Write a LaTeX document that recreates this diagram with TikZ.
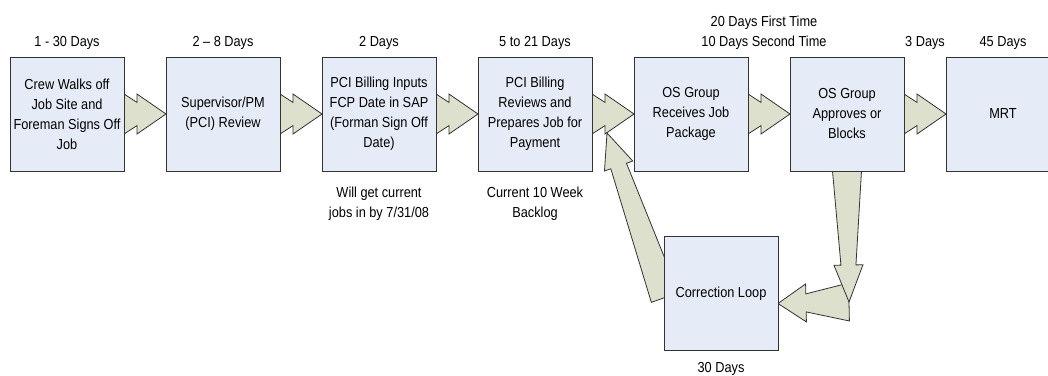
\documentclass[tikz,border=0pt]{standalone}
\usepackage{fontspec}
\setmainfont{Liberation Sans}[FakeStretch=0.88]
\usetikzlibrary{positioning, calc, backgrounds}

\definecolor{boxblue}{RGB}{230,236,247}
\definecolor{arrowgreen}{RGB}{221,224,204}
\definecolor{linegray}{RGB}{51,51,51}

\begin{document}
\begin{tikzpicture}[
  x=1pt, y=-1pt, font=\fontsize{14.5}{20}\selectfont,
  node distance=42pt,
  stepbox/.style = {draw=linegray, fill=boxblue, line width=0.9pt, minimum width=114pt,
    minimum height=114pt, inner sep=2pt, outer sep=0pt, align=center},
  lbl/.style = {inner sep=0pt, align=center},
  % double notched arrow between two steps
  chevron/.style = {draw=linegray, fill=arrowgreen, line width=0.8pt, to path={
      ($(\tikztostart)!20pt!90:(\tikztotarget)$)
      -- ($(\tikztostart)!13pt!(\tikztotarget)!11.6pt!90:(\tikztotarget)$)
      -- ($(\tikztostart)!13pt!(\tikztotarget)!20pt!90:(\tikztotarget)$)
      -- (\tikztotarget)
      -- ($(\tikztostart)!13pt!(\tikztotarget)!20pt!-90:(\tikztotarget)$)
      -- ($(\tikztostart)!13pt!(\tikztotarget)!11.6pt!-90:(\tikztotarget)$)
      -- ($(\tikztostart)!20pt!-90:(\tikztotarget)$) -- cycle}},
  % tapered block arrow: tail half width, shaft half width, head half width, head length
  taper/.style n args = {4}{draw=linegray, fill=arrowgreen, line width=0.8pt, to path={
      ($(\tikztostart)!#1pt!90:(\tikztotarget)$)
      -- ($(\tikztotarget)!#4pt!(\tikztostart)!#2pt!-90:(\tikztostart)$)
      -- ($(\tikztotarget)!#4pt!(\tikztostart)!#3pt!-90:(\tikztostart)$)
      -- (\tikztotarget)
      -- ($(\tikztotarget)!#4pt!(\tikztostart)!#3pt!90:(\tikztostart)$)
      -- ($(\tikztotarget)!#4pt!(\tikztostart)!#2pt!90:(\tikztostart)$)
      -- ($(\tikztostart)!#1pt!-90:(\tikztotarget)$) -- cycle}}
  ]
  \useasboundingbox (0,0) rectangle (1048,375);

  % main flow
  \node[stepbox] (b1) at (67,114) {Crew Walks off\\Job Site and\\Foreman Signs Off\\Job};
  \node[stepbox, right=of b1] (b2) {Supervisor/PM\\(PCI) Review};
  \node[stepbox, right=of b2] (b3) {PCI Billing Inputs\\FCP Date in SAP\\(Forman Sign Off\\Date)};
  \node[stepbox, right=of b3] (b4) {PCI Billing\\Reviews and\\Prepares Job for\\Payment};
  \node[stepbox, right=of b4] (b5) {OS Group\\Receives Job\\Package};
  \node[stepbox, right=of b5] (b6) {OS Group\\Approves or\\Blocks};
  \node[stepbox, right=of b6] (b7) {MRT};
  \node[stepbox] (loop) at (721,293.5) {Correction Loop};

  % durations and notes
  \node[lbl, above=7pt of b1] {1 - 30 Days};
  \node[lbl, above=7pt of b2] {2 -- 8 Days};
  \node[lbl, above=7pt of b3] {2 Days};
  \node[lbl, above=7pt of b4] {5 to 21 Days};
  \node[lbl, anchor=south] at ($(b5.north east)!.5!(b6.north west)+(-5,-7)$)
    {20 Days First Time\\10 Days Second Time};
  \node[lbl, anchor=south] at ($(b6.north east)!.5!(b7.north west)+(0,-7)$) {3 Days};
  \node[lbl, above=7pt of b7] {45 Days};
  \node[lbl, below=16pt of b3] {Will get current\\jobs in by 7/31/08};
  \node[lbl, below=16pt of b4] {Current 10 Week\\Backlog};
  \node[lbl, below=12pt of loop] {30 Days};

  \coordinate (bend) at (849,302);
  \coordinate (backtip) at (607,133);
  \coordinate (looptip) at ($(loop.east)+(0,10)$);
  \coordinate (looptail) at ($(loop.west)+(1,4)$);

  \begin{scope}[on background layer]
    \foreach \a/\b in {b1/b2, b2/b3, b3/b4, b4/b5, b5/b6, b6/b7}
      \draw[chevron] (\a.east) to (\b.west);
    \draw[taper={14.5}{8.3}{15}{35}] (looptail) to (backtip);
    \draw[taper={19}{9}{19}{28}] (bend) to (looptip);
    \draw[taper={14.5}{7.5}{14.5}{37}] (b6.south) to (bend);
  \end{scope}
\end{tikzpicture}
\end{document}
